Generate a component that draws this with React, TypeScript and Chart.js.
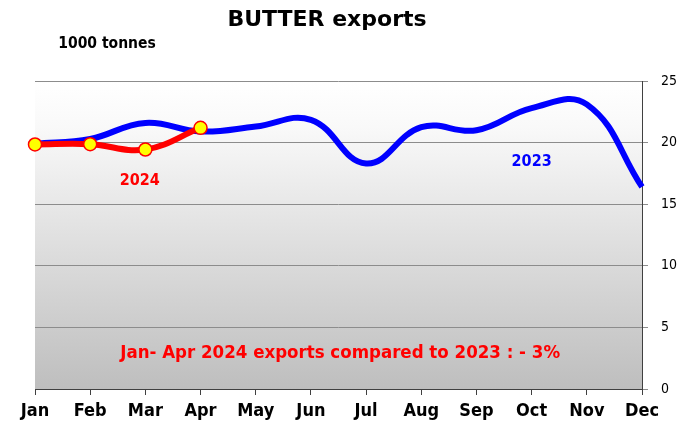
import React, { useEffect, useRef } from "react";
import { Chart, registerables } from "chart.js";

Chart.register(...registerables);

const months = ["Jan", "Feb", "Mar", "Apr", "May", "Jun", "Jul", "Aug", "Sep", "Oct", "Nov", "Dec"];
const exports2023 = [19.9, 20.3, 21.6, 20.9, 21.3, 21.85, 18.3, 21.25, 21.0, 22.8, 23.1, 16.4];
const exports2024 = [19.85, 19.87, 19.44, 21.2];
const yTicks = [0, 5, 10, 15, 20, 25];

const titleText = "BUTTER exports";
const unitText = "1000 tonnes";
const noteText = "Jan- Apr 2024 exports compared to 2023 : - 3%";

const FONT = "'DejaVu Sans Condensed', 'DejaVu Sans', sans-serif";
const FONT_WIDE = "'DejaVu Sans', sans-serif";

const decorPlugin = {
  id: "decor",
  beforeDraw(chart: any) {
    const { ctx, chartArea } = chart;
    const g = ctx.createLinearGradient(0, chartArea.top, 0, chartArea.bottom);
    g.addColorStop(0, "#ffffff");
    g.addColorStop(0.15, "#f9f9f9");
    g.addColorStop(1, "#bebebe");
    ctx.save();
    ctx.fillStyle = g;
    ctx.fillRect(chartArea.left, chartArea.top, chartArea.right - chartArea.left, chartArea.bottom - chartArea.top);
    ctx.restore();
  },
  afterDraw(chart: any) {
    const { ctx } = chart;
    const xs = chart.scales.x;
    const ys = chart.scales.y;
    ctx.save();
    ctx.textAlign = "center";
    ctx.textBaseline = "middle";
    ctx.fillStyle = "#000";
    ctx.font = `bold 22px ${FONT_WIDE}`;
    ctx.fillText(titleText, 327, 20);
    ctx.font = `bold 15.5px ${FONT}`;
    ctx.fillText(unitText, 107, 44);
    ctx.fillStyle = "#ff0000";
    ctx.font = `bold 16px ${FONT}`;
    ctx.fillText("2024", xs.getPixelForValue(1.9), ys.getPixelForValue(16.9));
    ctx.fillStyle = "#0000ff";
    ctx.fillText("2023", xs.getPixelForValue(9.0), ys.getPixelForValue(18.4));
    ctx.fillStyle = "#ff0000";
    ctx.font = `bold 18.5px ${FONT}`;
    ctx.fillText(noteText, xs.getPixelForValue(5.53), ys.getPixelForValue(2.9));
    ctx.restore();
  },
};

export default function App() {
  const ref = useRef<HTMLCanvasElement>(null);
  useEffect(() => {
    const chart = new Chart(ref.current!, {
      type: "line",
      data: {
        labels: months,
        datasets: [
          {
            label: "2024",
            data: exports2024,
            borderColor: "#ff0000",
            borderWidth: 6,
            tension: 0.4,
            pointRadius: 6.5,
            pointBackgroundColor: "#ffff00",
            pointBorderColor: "#ff0000",
            pointBorderWidth: 1.5,
            order: 0,
          },
          {
            label: "2023",
            data: exports2023,
            borderColor: "#0000ff",
            borderWidth: 6,
            tension: 0.42,
            pointRadius: 0,
            order: 1,
          },
        ],
      },
      options: {
        animation: false,
        responsive: false,
        layout: { padding: { top: 81, left: 35, right: 0, bottom: 0 } },
        plugins: {
          legend: { display: false },
          tooltip: { enabled: false },
          title: { display: false },
        },
        scales: {
          x: {
            type: "category",
            offset: false,
            grid: { drawOnChartArea: false, tickLength: 6, color: "#404040" },
            border: { color: "#404040", width: 1 },
            ticks: {
              color: "#000",
              font: { family: FONT, size: 18, weight: "bold" },
              maxRotation: 0,
              autoSkip: false,
              padding: 6,
            },
            afterFit(s: any) {
              s.height = 38;
            },
          },
          y: {
            position: "right",
            min: 0,
            max: 25,
            afterBuildTicks(s: any) {
              s.ticks = yTicks.map((v) => ({ value: v }));
            },
            grid: { color: "#8c8c8c", tickLength: 6, lineWidth: 1 },
            border: { color: "#404040", width: 1 },
            ticks: {
              color: "#000",
              font: { family: FONT, size: 14 },
              padding: 13,
            },
            afterFit(s: any) {
              s.width = 42;
            },
          },
        },
      },
      plugins: [decorPlugin],
    });
    return () => chart.destroy();
  }, []);
  return (
    <div style={{ position: "absolute", left: 0, top: 0, width: 684, height: 427, background: "#fff" }}>
      <canvas ref={ref} width={684} height={427} style={{ width: 684, height: 427 }} />
    </div>
  );
}
